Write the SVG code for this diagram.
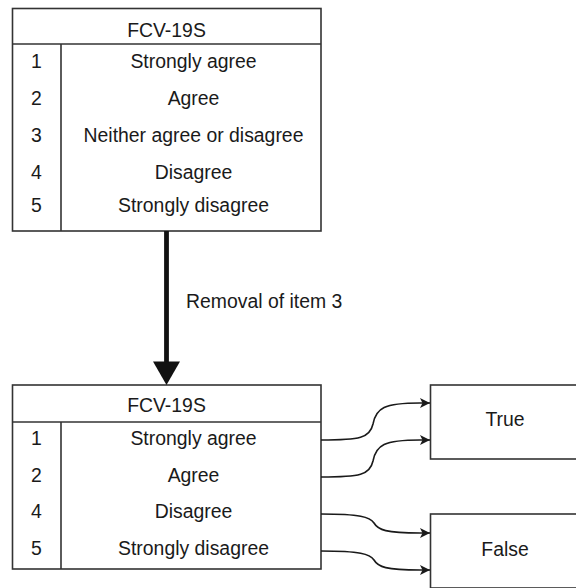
<svg xmlns="http://www.w3.org/2000/svg" width="576" height="588" viewBox="0 0 576 588">
<style>
.box{fill:#fff;stroke:#333;stroke-width:1.6}
.ln{stroke:#333;stroke-width:1.6;fill:none}
text{font-family:"Liberation Sans",Arial,Helvetica,sans-serif;font-size:19.4px;fill:#1a1a1a;text-anchor:middle}
.lbl{text-anchor:start}
.edge{stroke:#1a1a1a;stroke-width:1.6;fill:none}
</style>
<defs>
<marker id="ah" viewBox="0 0 10 10" refX="10" refY="5" markerWidth="10" markerHeight="10" markerUnits="userSpaceOnUse" orient="auto">
<path d="M0,0 L10,5 L0,10 L2.5,5 Z" fill="#1a1a1a"/>
</marker>
</defs>
<rect width="576" height="588" fill="#fff"/>
<g id="table-top">
<rect class="box" x="12.5" y="8.5" width="308.5" height="222.5"/>
<line class="ln" x1="12.5" y1="44" x2="321" y2="44"/>
<line class="ln" x1="61" y1="44" x2="61" y2="231"/>
<text x="166.5" y="36.7">FCV-19S</text>
<text x="36.5" y="68.3">1</text><text x="193.5" y="68.3">Strongly agree</text>
<text x="36.5" y="105">2</text><text x="193.5" y="105">Agree</text>
<text x="36.5" y="141.7">3</text><text x="193.5" y="141.7">Neither agree or disagree</text>
<text x="36.5" y="178.5">4</text><text x="193.5" y="178.5">Disagree</text>
<text x="36.5" y="211.5">5</text><text x="193.5" y="211.5">Strongly disagree</text>
</g>
<g id="table-bottom">
<rect class="box" x="12.5" y="385" width="308.5" height="184"/>
<line class="ln" x1="12.5" y1="422" x2="321" y2="422"/>
<line class="ln" x1="61" y1="422" x2="61" y2="569"/>
<text x="166.5" y="411.7">FCV-19S</text>
<text x="36.5" y="445">1</text><text x="193.5" y="445">Strongly agree</text>
<text x="36.5" y="481.7">2</text><text x="193.5" y="481.7">Agree</text>
<text x="36.5" y="518.3">4</text><text x="193.5" y="518.3">Disagree</text>
<text x="36.5" y="555">5</text><text x="193.5" y="555">Strongly disagree</text>
</g>
<g id="node-true">
<rect class="box" x="430.5" y="385" width="149" height="74"/>
<text x="505" y="425.7">True</text>
</g>
<g id="node-false">
<rect class="box" x="430.5" y="514" width="149" height="74"/>
<text x="505" y="556">False</text>
</g>
<g id="connectors">
<line x1="166.5" y1="231" x2="166.5" y2="364" stroke="#111" stroke-width="4.8"/>
<path d="M153,361.5 L180,361.5 L166.5,385 Z" fill="#111"/>
<text class="lbl" x="186" y="308.3">Removal of item 3</text>
<path class="edge" marker-end="url(#ah)" d="M321,440 C360,440 370,438 373,424 C376,408 384,403 420,403 L430,403"/>
<path class="edge" marker-end="url(#ah)" d="M321,477 C360,477 370,475 373,461 C376,445 384,440 420,440 L430,440"/>
<path class="edge" marker-end="url(#ah)" d="M321,514 C360,514 370,517 374,523 C378,530 386,533 420,533 L430,533"/>
<path class="edge" marker-end="url(#ah)" d="M321,551 C360,551 370,554 374,560 C378,567 386,570 420,570 L430,570"/>
</g>
</svg>
